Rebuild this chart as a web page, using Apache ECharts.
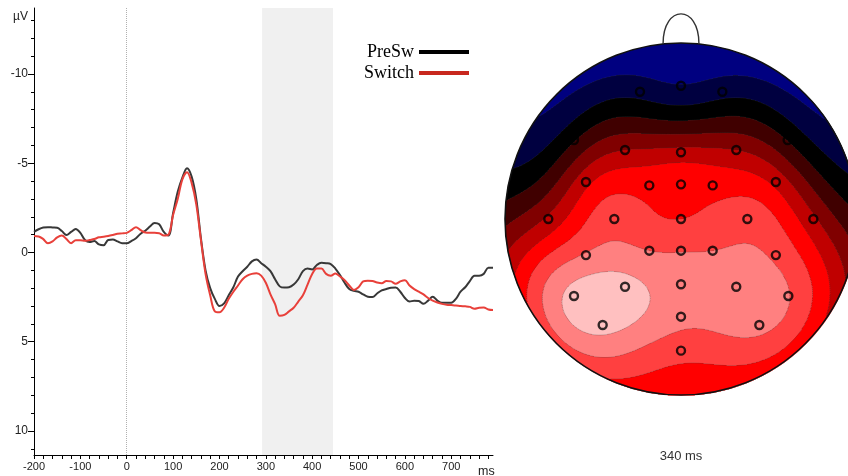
<!DOCTYPE html>
<html>
<head>
<meta charset="utf-8">
<script src="https://cdn.jsdelivr.net/npm/echarts@6/dist/echarts.min.js"></script>
<style>
  html, body { margin: 0; padding: 0; background: #fff; }
  #chart { width: 848px; height: 476px; }
</style>
</head>
<body>
<div id="chart"></div>
<script>
// ---- ERP waveforms (µV, negative up), sampled every 10 ms ----
const timesMs = [
  -200, -190, -180, -170, -160, -150, -140, -130, -120, -110,
  -100, -90, -80, -70, -60, -50, -40, -30, -20, -10,
  0, 10, 20, 30, 40, 50, 60, 70, 80, 90,
  100, 110, 120, 130, 140, 150, 160, 170, 180, 190,
  200, 210, 220, 230, 240, 250, 260, 270, 280, 290,
  300, 310, 320, 330, 340, 350, 360, 370, 380, 390,
  400, 410, 420, 430, 440, 450, 460, 470, 480, 490,
  500, 510, 520, 530, 540, 550, 560, 570, 580, 590,
  600, 610, 620, 630, 640, 650, 660, 670, 680, 690,
  700, 710, 720, 730, 740, 750, 760, 770, 780, 790
];
const preSw = [
  -1.15, -1.30, -1.40, -1.42, -1.40, -1.38, -1.20, -0.98, -1.15, -1.32,
  -1.10, -0.70, -0.58, -0.64, -0.45, -0.40, -0.70, -0.72, -0.62, -0.52,
  -0.52, -0.64, -0.80, -1.05, -1.22, -1.45, -1.65, -1.58, -1.15, -0.95,
  -2.20, -3.40, -4.20, -4.72, -4.25, -3.00, -0.80, 1.00, 2.00, 2.60,
  3.00, 2.85, 2.40, 1.95, 1.35, 1.05, 0.80, 0.50, 0.40, 0.60,
  0.80, 1.05, 1.50, 1.90, 1.97, 1.95, 1.80, 1.50, 1.05, 0.90,
  0.95, 0.70, 0.58, 0.60, 0.65, 0.90, 1.27, 1.70, 2.05, 2.15,
  2.20, 2.35, 2.48, 2.50, 2.30, 2.12, 2.05, 1.98, 1.97, 2.20,
  2.55, 2.75, 2.70, 2.72, 2.88, 2.70, 2.48, 2.70, 2.82, 2.82,
  2.82, 2.60, 2.20, 1.95, 1.60, 1.30, 1.30, 1.20, 0.85, 0.85
];
const switchWave = [
  -0.92, -0.90, -0.75, -0.52, -0.62, -0.85, -0.95, -0.75, -0.52, -0.68,
  -0.68, -0.65, -0.70, -0.75, -0.85, -0.88, -0.92, -0.98, -1.05, -1.07,
  -1.10, -1.25, -1.42, -1.25, -1.12, -1.10, -1.10, -1.08, -0.95, -1.00,
  -2.10, -3.00, -4.10, -4.50, -3.90, -2.70, -0.70, 1.20, 2.40, 3.30,
  3.35, 3.10, 2.60, 2.20, 1.85, 1.50, 1.30, 1.20, 1.17, 1.30,
  1.70, 2.35, 2.90, 3.55, 3.50, 3.30, 3.10, 2.75, 2.40, 1.80,
  1.20, 0.90, 0.90, 1.20, 1.30, 1.18, 1.35, 1.55, 1.85, 2.10,
  1.95, 1.62, 1.58, 1.60, 1.68, 1.72, 1.60, 1.62, 1.76, 1.62,
  1.55, 1.85, 2.05, 2.20, 2.35, 2.55, 2.70, 2.80, 2.88, 2.93,
  2.95, 2.97, 3.00, 3.02, 3.05, 3.15, 3.10, 3.08, 3.20, 3.23
];
const seriesNames = ['PreSw', 'Switch'];
const analysisWindow = [292, 445];           // shaded latency window (ms)
const xLabelVals = [-200, -100, 0, 100, 200, 300, 400, 500, 600, 700];
const xTickVals = [
  -200, -180, -160, -140, -120, -100, -80, -60, -40, -20,
  0, 20, 40, 60, 80, 100, 120, 140, 160, 180,
  200, 220, 240, 260, 280, 300, 320, 340, 360, 380,
  400, 420, 440, 460, 480, 500, 520, 540, 560, 580,
  600, 620, 640, 660, 680, 700, 720, 740, 760, 780
];
const yLabelVals = [-10, -5, 0, 5, 10];
const yMajorTicks = [-10, -5, 0, 5, 10];
const yMinorTicks = [-13, -12, -11, -10, -9, -8, -7, -6, -5, -4, -3, -2, -1, 0,
                     1, 2, 3, 4, 5, 6, 7, 8, 9, 10, 11];

// ---- Scalp map at 340 ms: electrode positions (unit head radius) and values ----
const topoLabel = '340 ms';
const electrodeNames = ['Fp1','Fpz','Fp2','F7','F3','Fz','F4','F8',
  'FC5','FC1','FCz','FC2','FC6','T7','C3','Cz','C4','T8',
  'CP5','CP1','CPz','CP2','CP6','P7','P3','Pz','P4','P8','O1','Oz','O2','Iz'];
const electrodeX = [-0.233, 0.000, 0.235, -0.608, -0.318, 0.000, 0.314, 0.606,
  -0.540, -0.180, 0.000, 0.180, 0.539, -0.754, -0.379, 0.000, 0.377, 0.752,
  -0.540, -0.180, 0.000, 0.180, 0.539, -0.608, -0.318, 0.000, 0.314, 0.610,
  -0.445, 0.000, 0.445, 0.000];
const electrodeY = [0.723, 0.757, 0.723, 0.449, 0.392, 0.379, 0.392, 0.449,
  0.210, 0.191, 0.197, 0.191, 0.210, 0.000, 0.000, 0.000, 0.000, 0.000,
  -0.205, -0.180, -0.180, -0.180, -0.205, -0.4375, -0.385, -0.371, -0.385, -0.4375,
  -0.602, -0.555, -0.602, -0.748];
const electrodeVals = [-0.85, -1.45, -0.85, 0.4, 2.5, 2.85, 2.5, 0.45,
  3.2, 4.2, 4.3, 4.2, 3.2, 2.7, 5.05, 4.5, 5.05, 2.7,
  5.6, 5.5, 5.45, 5.5, 5.3, 6.85, 6.85, 6.0, 6.1, 5.55,
  6.85, 5.8, 5.8, 4.9];
// colour bands, one per unit step from -4 to +8
const bandLevels = [-4, -3, -2, -1, 0, 1, 2, 3, 4, 5, 6, 7, 8];
const bandColors = ['#0000ff', '#0000c0', '#000080', '#000040', '#000000',
  '#400000', '#800000', '#c00000', '#ff0000', '#ff4040', '#ff8080', '#ffc0c0', '#ffffff'];

// ---- spherical-spline surface through the electrode values ----
// disc radius 0.755 sits on the head's equator; the rim lies below it
const EQUATOR_R = 0.755;
function toSphere(x, y) {
  const rho = Math.hypot(x, y);
  const th = rho / EQUATOR_R * Math.PI / 2;
  const ph = Math.atan2(y, x);
  return [Math.sin(th) * Math.cos(ph), Math.sin(th) * Math.sin(ph), Math.cos(th)];
}
// Legendre-series kernel g(cos γ) for order m = 4, tabulated
const G_TABLE_N = 4001;
const gTable = (() => {
  const out = new Float64Array(G_TABLE_N);
  const terms = 40, m = 4;
  for (let k = 0; k < G_TABLE_N; k++) {
    const t = -1 + 2 * k / (G_TABLE_N - 1);
    let p0 = 1, p1 = t, s = 0;
    for (let n = 1; n <= terms; n++) {
      if (n > 1) { const p2 = ((2 * n - 1) * t * p1 - (n - 1) * p0) / n; p0 = p1; p1 = p2; }
      s += (2 * n + 1) / Math.pow(n * (n + 1), m) * p1;
    }
    out[k] = s / (4 * Math.PI);
  }
  return out;
})();
function gKernel(t) {
  const f = (Math.max(-1, Math.min(1, t)) + 1) / 2 * (G_TABLE_N - 1);
  const i = Math.min(G_TABLE_N - 2, Math.floor(f));
  const w = f - i;
  return gTable[i] * (1 - w) + gTable[i + 1] * w;
}
function fitSphericalSpline(xs, ys, vs) {
  const n = xs.length, m = n + 1;
  const P = xs.map((x, i) => toSphere(x, ys[i]));
  const dot = (a, b) => a[0] * b[0] + a[1] * b[1] + a[2] * b[2];
  const A = [];
  for (let i = 0; i < m; i++) A.push(new Array(m + 1).fill(0));
  for (let i = 0; i < n; i++) {
    for (let j = 0; j < n; j++) A[i][j] = gKernel(dot(P[i], P[j]));
    A[i][n] = 1; A[n][i] = 1; A[i][m] = vs[i];
  }
  for (let c = 0; c < m; c++) {
    let p = c;
    for (let r = c + 1; r < m; r++) if (Math.abs(A[r][c]) > Math.abs(A[p][c])) p = r;
    [A[c], A[p]] = [A[p], A[c]];
    for (let r = 0; r < m; r++) {
      if (r === c) continue;
      const f = A[r][c] / A[c][c];
      if (f === 0) continue;
      for (let k = c; k <= m; k++) A[r][k] -= f * A[c][k];
    }
  }
  const sol = A.map((row, i) => row[m] / row[i]);
  return (x, y) => {
    const q = toSphere(x, y);
    let s = sol[n];
    for (let i = 0; i < n; i++) s += sol[i] * gKernel(dot(q, P[i]));
    return s;
  };
}
const surface = fitSphericalSpline(electrodeX, electrodeY, electrodeVals);
function bandOf(v) {
  const b = Math.round(v);
  return Math.max(bandLevels[0], Math.min(bandLevels[bandLevels.length - 1], b));
}

// run-length rows of colour bands across the head disc
const ROWS = 352;
const step = 2 / ROWS;
const bandRuns = [];
for (let j = 0; j < ROWS; j++) {
  const yc = 1 - (j + 0.5) * step;
  const half = Math.sqrt(Math.max(0, 1 - yc * yc));
  if (half <= 0) continue;
  const cols = Math.max(1, Math.round(2 * half / step));
  const dx = 2 * half / cols;
  let start = -half, cur = null;
  for (let i = 0; i < cols; i++) {
    const xc = -half + (i + 0.5) * dx;
    const b = bandOf(surface(xc, yc));
    if (cur === null) cur = b;
    else if (b !== cur) {
      const edge = -half + i * dx;
      bandRuns.push([start, edge, yc, cur]);
      start = edge; cur = b;
    }
  }
  bandRuns.push([start, half, yc, cur]);
}

// iso-lines on the band edges (marching squares), kept inside the disc
const ISO_N = 200;
const isoStep = 2 / ISO_N;
const nodeVals = [];
for (let j = 0; j <= ISO_N; j++) {
  const row = new Float64Array(ISO_N + 1);
  for (let i = 0; i <= ISO_N; i++) row[i] = surface(-1 + i * isoStep, -1 + j * isoStep);
  nodeVals.push(row);
}
const isoLevels = bandLevels.slice(0, -1).map(b => b + 0.5);
const isoSegments = isoLevels.map(L => {
  const segs = [];
  for (let j = 0; j < ISO_N; j++) {
    for (let i = 0; i < ISO_N; i++) {
      const x0 = -1 + i * isoStep, y0 = -1 + j * isoStep;
      const c = [[x0, y0, nodeVals[j][i]], [x0 + isoStep, y0, nodeVals[j][i + 1]],
                 [x0 + isoStep, y0 + isoStep, nodeVals[j + 1][i + 1]], [x0, y0 + isoStep, nodeVals[j + 1][i]]];
      const pts = [];
      for (let e = 0; e < 4; e++) {
        const a = c[e], b = c[(e + 1) % 4];
        if ((a[2] - L) * (b[2] - L) < 0) {
          const t = (L - a[2]) / (b[2] - a[2]);
          pts.push([a[0] + t * (b[0] - a[0]), a[1] + t * (b[1] - a[1])]);
        }
      }
      for (let k = 0; k + 1 < pts.length; k += 2) {
        const mx = (pts[k][0] + pts[k + 1][0]) / 2, my = (pts[k][1] + pts[k + 1][1]) / 2;
        if (Math.hypot(mx, my) < 0.992) segs.push([pts[k], pts[k + 1]]);
      }
    }
  }
  return segs;
});

const chart = echarts.init(document.getElementById('chart'), null, { renderer: 'canvas' });
const sansFont = '"Liberation Sans", Arial, Helvetica, sans-serif';

const option = {
  animation: false,
  backgroundColor: '#ffffff',
  legend: {
    orient: 'vertical',
    left: 359,
    top: 38,
    align: 'right',
    icon: 'rect',
    itemWidth: 50,
    itemHeight: 4,
    itemGap: 3,
    textStyle: { fontFamily: '"Liberation Serif", "Times New Roman", serif', fontSize: 18, color: '#000' },
    data: [
      { name: seriesNames[0], itemStyle: { color: '#000000' } },
      { name: seriesNames[1], itemStyle: { color: '#c8281e' } }
    ]
  },
  grid: [
    { left: 34, top: 8, width: 459, height: 447, outerBoundsMode: 'none', containLabel: false },
    { left: 505, top: 43, width: 352, height: 352, outerBoundsMode: 'none', containLabel: false }
  ],
  xAxis: [
    {
      gridIndex: 0, type: 'value', min: -200, max: 790,
      axisLine: { show: true, onZero: false, lineStyle: { color: '#000', width: 1 } },
      axisTick: { show: true, customValues: xTickVals, length: 4, lineStyle: { color: '#000' } },
      axisLabel: { customValues: xLabelVals, fontSize: 11, color: '#222', margin: 6, fontFamily: sansFont },
      splitLine: { show: false },
      name: 'ms', nameLocation: 'end', nameGap: -15,
      nameTextStyle: { fontSize: 12.5, color: '#222', fontFamily: sansFont, verticalAlign: 'top', align: 'left', padding: [10, 0, 0, 0] }
    },
    { gridIndex: 1, type: 'value', min: -1, max: 1, show: false }
  ],
  yAxis: [
    {
      gridIndex: 0, type: 'value', inverse: true, min: -13.7, max: 11.35, position: 'left',
      axisLine: { show: true, onZero: false, lineStyle: { color: '#000', width: 1 } },
      axisTick: { show: true, customValues: yMajorTicks, length: 6, lineStyle: { color: '#000' } },
      axisLabel: {
        customValues: [-13.2].concat(yLabelVals), fontSize: 12, color: '#222', margin: 6, fontFamily: sansFont,
        formatter: v => (v < -12 ? 'µV' : String(v))
      },
      splitLine: { show: false }
    },
    {
      gridIndex: 0, type: 'value', inverse: true, min: -13.7, max: 11.35, position: 'left',
      axisLine: { show: false, onZero: false },
      axisTick: { show: true, customValues: yMinorTicks, length: 3, lineStyle: { color: '#000' } },
      axisLabel: { show: false },
      splitLine: { show: false }
    },
    { gridIndex: 1, type: 'value', min: -1, max: 1, show: false }
  ],
  graphic: [
    {
      type: 'text', x: 681, y: 456, silent: true,
      style: { text: topoLabel, align: 'center', verticalAlign: 'middle', font: '13px ' + sansFont, fill: '#333' }
    }
  ],
  series: [
    {
      // latency window and stimulus onset marker
      type: 'line', xAxisIndex: 0, yAxisIndex: 0, data: [], silent: true, z: 0,
      markArea: {
        silent: true, z: 0,
        itemStyle: { color: '#f0f0f0' },
        data: [[{ xAxis: analysisWindow[0] }, { xAxis: analysisWindow[1] }]]
      },
      markLine: {
        silent: true, symbol: 'none', label: { show: false }, z: 0,
        lineStyle: { type: 'dotted', color: '#b0b0b0', width: 1 },
        data: [{ xAxis: 0 }]
      }
    },
    {
      name: seriesNames[0], type: 'line', xAxisIndex: 0, yAxisIndex: 0, z: 10,
      data: timesMs.map((t, i) => [t, preSw[i]]),
      smooth: 0.35, showSymbol: false, lineStyle: { color: '#383838', width: 2 }, itemStyle: { color: '#000' }
    },
    {
      name: seriesNames[1], type: 'line', xAxisIndex: 0, yAxisIndex: 0, z: 11,
      data: timesMs.map((t, i) => [t, switchWave[i]]),
      smooth: 0.35, showSymbol: false, lineStyle: { color: '#e8403a', width: 2 }, itemStyle: { color: '#c8281e' }
    },
    {
      // colour bands of the interpolated scalp field
      type: 'custom', xAxisIndex: 1, yAxisIndex: 2, coordinateSystem: 'cartesian2d',
      silent: true, clip: false, z: 2,
      data: bandRuns,
      renderItem: (params, api) => {
        const x0 = api.value(0), x1 = api.value(1), yc = api.value(2), b = api.value(3);
        const p0 = api.coord([x0, yc + step / 2]);
        const p1 = api.coord([x1, yc - step / 2]);
        return {
          type: 'rect',
          shape: { x: p0[0], y: p0[1], width: p1[0] - p0[0] + 0.6, height: p1[1] - p0[1] + 0.6 },
          style: { fill: bandColors[bandLevels.indexOf(b)], stroke: null }
        };
      }
    },
    {
      // faint iso-lines between the bands
      type: 'custom', xAxisIndex: 1, yAxisIndex: 2, coordinateSystem: 'cartesian2d',
      silent: true, clip: false, z: 3,
      data: isoLevels.map((L, k) => [0, 0, k]),
      renderItem: (params, api) => {
        const segs = isoSegments[api.value(2)];
        let d = '';
        for (const s of segs) {
          const a = api.coord(s[0]), b = api.coord(s[1]);
          d += 'M' + a[0].toFixed(2) + ' ' + a[1].toFixed(2) + 'L' + b[0].toFixed(2) + ' ' + b[1].toFixed(2);
        }
        if (!d) return null;
        return { type: 'path', shape: { pathData: d }, style: { fill: null, stroke: 'rgba(60,60,60,0.28)', lineWidth: 0.9 } };
      }
    },
    {
      // head outline and nose
      type: 'custom', xAxisIndex: 1, yAxisIndex: 2, coordinateSystem: 'cartesian2d',
      silent: true, clip: false, z: 5,
      data: [[0, 0]],
      renderItem: (params, api) => {
        const c = api.coord([0, 0]);
        const e = api.coord([1, 0]);
        const r = e[0] - c[0];
        const a = api.coord([-0.102, 0.995]);
        const b = api.coord([0.102, 0.995]);
        const ca = api.coord([-0.102, 1.222]);
        const cb = api.coord([0.102, 1.222]);
        return {
          type: 'group',
          children: [
            { type: 'circle', shape: { cx: c[0], cy: c[1], r: r }, style: { fill: null, stroke: '#111', lineWidth: 1.6 } },
            {
              type: 'bezierCurve',
              shape: { x1: a[0], y1: a[1], cpx1: ca[0], cpy1: ca[1], cpx2: cb[0], cpy2: cb[1], x2: b[0], y2: b[1] },
              style: { fill: null, stroke: '#333', lineWidth: 1.4 }
            }
          ]
        };
      }
    },
    {
      // electrode sites
      type: 'scatter', xAxisIndex: 1, yAxisIndex: 2, z: 6, silent: true,
      data: electrodeX.map((x, i) => [x, electrodeY[i]]),
      symbol: 'circle', symbolSize: 8,
      itemStyle: { color: 'rgba(0,0,0,0)', borderColor: '#000', borderWidth: 2.4 }
    }
  ]
};
chart.setOption(option);
</script>
</body>
</html>
